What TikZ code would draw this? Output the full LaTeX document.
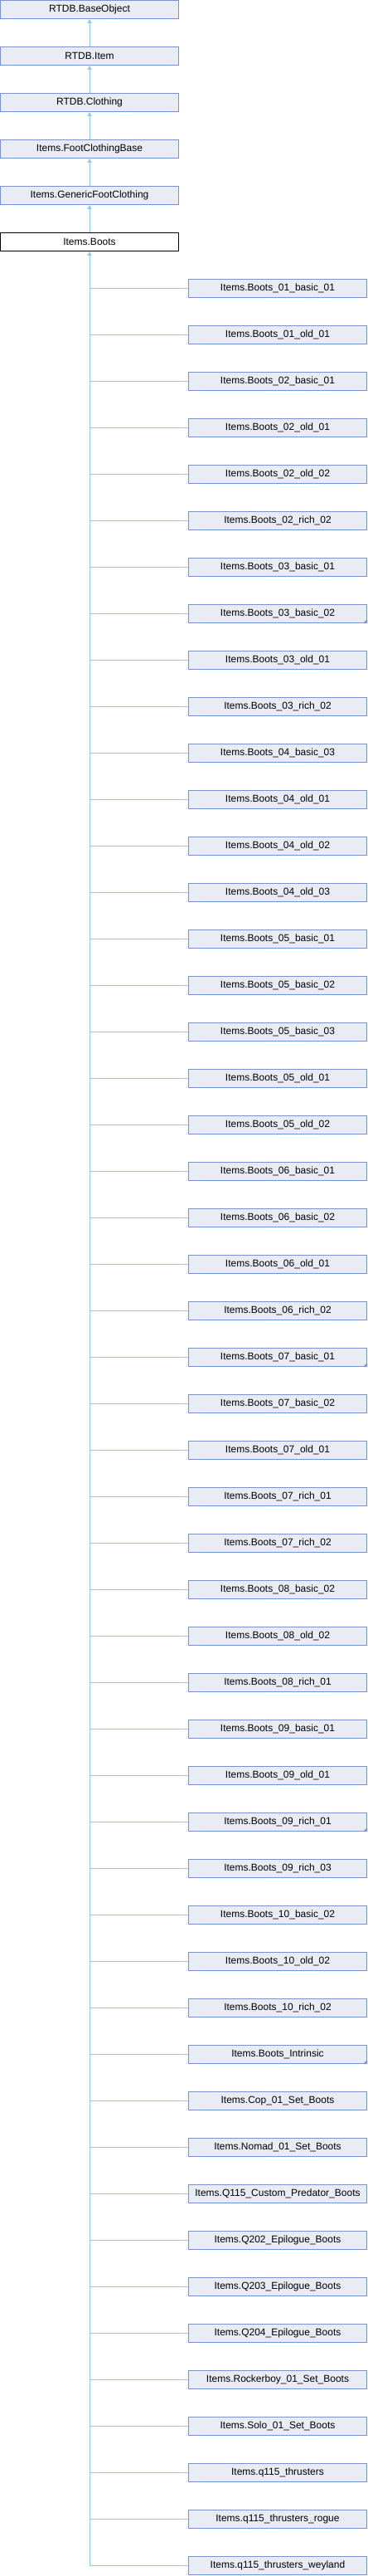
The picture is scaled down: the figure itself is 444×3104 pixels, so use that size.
\documentclass[tikz,border=0pt]{standalone}
\usepackage{fontspec}
\setmainfont{Liberation Sans}
\usepackage{xcolor}
\usetikzlibrary{arrows.meta}
\definecolor{boxfill}{HTML}{E8ECF5}
\definecolor{boxline}{HTML}{7B93C6}
\definecolor{linkblue}{HTML}{8CCBEE}
\begin{document}
\begin{tikzpicture}[x=1pt,y=-1pt,
	cls/.style={draw=boxline,fill=boxfill,line width=1pt,minimum width=215pt,minimum height=22pt,inner sep=0pt,font=\fontsize{12}{14}\selectfont},
	here/.style={cls,draw=black,fill=white},
	link/.style={draw=linkblue,line width=1pt},
	up/.style={link,{Triangle[width=5pt,length=5pt]}-}]
				\useasboundingbox (0,0) rectangle (444,3104);
				% base chain
				\node [cls] (base) at (108,11.5) {RTDB.BaseObject};
				\node [cls] (item) at (108,67.5) {RTDB.Item};
				\node [cls] (cloth) at (108,123.5) {RTDB.Clothing};
				\node [cls] (footbase) at (108,179.5) {Items.FootClothingBase};
				\node [cls] (generic) at (108,235.5) {Items.GenericFootClothing};
				\node [here] (boots) at (108,291.5) {Items.Boots};
				\draw [up] (base.south) -- (item.north);
				\draw [up] (item.south) -- (cloth.north);
				\draw [up] (cloth.south) -- (footbase.north);
				\draw [up] (footbase.south) -- (generic.north);
				\draw [up] (generic.south) -- (boots.north);
				% derived classes
				\node [cls] (k01) at (335,347.5) {Items.Boots\_01\_basic\_01};
				\node [cls] (k02) at (335,403.5) {Items.Boots\_01\_old\_01};
				\node [cls] (k03) at (335,459.5) {Items.Boots\_02\_basic\_01};
				\node [cls] (k04) at (335,515.5) {Items.Boots\_02\_old\_01};
				\node [cls] (k05) at (335,571.5) {Items.Boots\_02\_old\_02};
				\node [cls] (k06) at (335,627.5) {Items.Boots\_02\_rich\_02};
				\node [cls] (k07) at (335,683.5) {Items.Boots\_03\_basic\_01};
				\node [cls] (k08) at (335,739.5) {Items.Boots\_03\_basic\_02};
				\node [cls] (k09) at (335,795.5) {Items.Boots\_03\_old\_01};
				\node [cls] (k10) at (335,851.5) {Items.Boots\_03\_rich\_02};
				\node [cls] (k11) at (335,907.5) {Items.Boots\_04\_basic\_03};
				\node [cls] (k12) at (335,963.5) {Items.Boots\_04\_old\_01};
				\node [cls] (k13) at (335,1019.5) {Items.Boots\_04\_old\_02};
				\node [cls] (k14) at (335,1075.5) {Items.Boots\_04\_old\_03};
				\node [cls] (k15) at (335,1131.5) {Items.Boots\_05\_basic\_01};
				\node [cls] (k16) at (335,1187.5) {Items.Boots\_05\_basic\_02};
				\node [cls] (k17) at (335,1243.5) {Items.Boots\_05\_basic\_03};
				\node [cls] (k18) at (335,1299.5) {Items.Boots\_05\_old\_01};
				\node [cls] (k19) at (335,1355.5) {Items.Boots\_05\_old\_02};
				\node [cls] (k20) at (335,1411.5) {Items.Boots\_06\_basic\_01};
				\node [cls] (k21) at (335,1467.5) {Items.Boots\_06\_basic\_02};
				\node [cls] (k22) at (335,1523.5) {Items.Boots\_06\_old\_01};
				\node [cls] (k23) at (335,1579.5) {Items.Boots\_06\_rich\_02};
				\node [cls] (k24) at (335,1635.5) {Items.Boots\_07\_basic\_01};
				\node [cls] (k25) at (335,1691.5) {Items.Boots\_07\_basic\_02};
				\node [cls] (k26) at (335,1747.5) {Items.Boots\_07\_old\_01};
				\node [cls] (k27) at (335,1803.5) {Items.Boots\_07\_rich\_01};
				\node [cls] (k28) at (335,1859.5) {Items.Boots\_07\_rich\_02};
				\node [cls] (k29) at (335,1915.5) {Items.Boots\_08\_basic\_02};
				\node [cls] (k30) at (335,1971.5) {Items.Boots\_08\_old\_02};
				\node [cls] (k31) at (335,2027.5) {Items.Boots\_08\_rich\_01};
				\node [cls] (k32) at (335,2083.5) {Items.Boots\_09\_basic\_01};
				\node [cls] (k33) at (335,2139.5) {Items.Boots\_09\_old\_01};
				\node [cls] (k34) at (335,2195.5) {Items.Boots\_09\_rich\_01};
				\node [cls] (k35) at (335,2251.5) {Items.Boots\_09\_rich\_03};
				\node [cls] (k36) at (335,2307.5) {Items.Boots\_10\_basic\_02};
				\node [cls] (k37) at (335,2363.5) {Items.Boots\_10\_old\_02};
				\node [cls] (k38) at (335,2419.5) {Items.Boots\_10\_rich\_02};
				\node [cls] (k39) at (335,2475.5) {Items.Boots\_Intrinsic};
				\node [cls] (k40) at (335,2531.5) {Items.Cop\_01\_Set\_Boots};
				\node [cls] (k41) at (335,2587.5) {Items.Nomad\_01\_Set\_Boots};
				\node [cls] (k42) at (335,2643.5) {Items.Q115\_Custom\_Predator\_Boots};
				\node [cls] (k43) at (335,2699.5) {Items.Q202\_Epilogue\_Boots};
				\node [cls] (k44) at (335,2755.5) {Items.Q203\_Epilogue\_Boots};
				\node [cls] (k45) at (335,2811.5) {Items.Q204\_Epilogue\_Boots};
				\node [cls] (k46) at (335,2867.5) {Items.Rockerboy\_01\_Set\_Boots};
				\node [cls] (k47) at (335,2923.5) {Items.Solo\_01\_Set\_Boots};
				\node [cls] (k48) at (335,2979.5) {Items.q115\_thrusters};
				\node [cls] (k49) at (335,3035.5) {Items.q115\_thrusters\_rogue};
				\node [cls] (k50) at (335,3091.5) {Items.q115\_thrusters\_weyland};
				% folded corners
				\fill [boxline] (k08.south east) -- ++(-5,0) -- ++(5,-5) -- cycle;
				\fill [boxline] (k24.south east) -- ++(-5,0) -- ++(5,-5) -- cycle;
				\fill [boxline] (k34.south east) -- ++(-5,0) -- ++(5,-5) -- cycle;
				\fill [boxline] (k39.south east) -- ++(-5,0) -- ++(5,-5) -- cycle;
				% trunk and branches
				\coordinate (trunkend) at (boots.south |- k50.west);
				\draw [up] (boots.south) -- (trunkend);
				\foreach \k in {01,02,03,04,05,06,07,08,09,10,11,12,13,14,15,16,17,18,19,20,21,22,23,24,25,26,27,28,29,30,31,32,33,34,35,36,37,38,39,40,41,42,43,44,45,46,47,48,49,50}
					\draw [link] (boots.south |- k\k.west) -- (k\k.west);
				\end{tikzpicture}
\end{document}
